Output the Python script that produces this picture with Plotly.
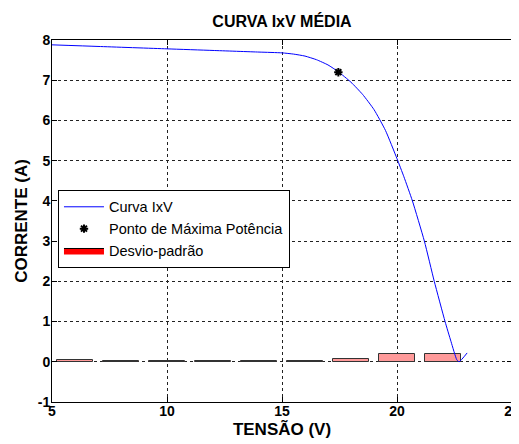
import plotly.graph_objects as go

# Curve IxV (tensão V, corrente A)
curve_v = [5, 7, 10, 12, 14, 15, 15.5, 16, 16.5, 17, 17.45, 18, 18.5, 19, 19.5, 20,
           20.3, 20.67, 21.19, 21.62, 22.09, 22.35, 22.6, 22.7, 23.05]
curve_i = [7.88, 7.84, 7.78, 7.74, 7.70, 7.68, 7.65, 7.60, 7.51, 7.38, 7.21, 6.95, 6.65,
           6.27, 5.75, 5.05, 4.6, 4.0, 3.0, 2.0, 1.0, 0.5, 0.05, 0.0, 0.22]

# Ponto de máxima potência
mpp_v = [17.45]
mpp_i = [7.2]

# Desvio-padrão
dev_v = [6, 8, 10, 12, 14, 16, 18, 20, 22]
dev_h = [0.05, 0.02, 0.02, 0.02, 0.02, 0.02, 0.08, 0.2, 0.2]

x_ticks = [5, 10, 15, 20, 25]
x_labels = ["5", "10", "15", "20", "25"]
y_ticks = [-1, 0, 1, 2, 3, 4, 5, 6, 7, 8]
y_labels = ["-1", "0", "1", "2", "3", "4", "5", "6", "7", "8"]

FONT = "Liberation Sans, Arial"

fig = go.Figure()
fig.add_trace(go.Bar(x=dev_v, y=dev_h, width=1.55, name="Desvio-padrão",
                     marker=dict(color="#ff9a9a", line=dict(color="#333333", width=1)),
                     showlegend=False))
fig.add_trace(go.Scatter(x=curve_v, y=curve_i, mode="lines", name="Curva IxV",
                         line=dict(color="#0000ff", width=1, shape="spline", smoothing=0.5),
                         legendrank=1))
fig.add_trace(go.Scatter(x=mpp_v, y=mpp_i, mode="markers", name="Ponto de Máxima Potência",
                         marker=dict(symbol="asterisk-open", size=7, color="black",
                                     line=dict(color="black", width=2)), legendrank=2))
# legend entry for the bars (pure red swatch as in the reference)
fig.add_trace(go.Scatter(x=[None], y=[None], mode="lines", fill="toself", name="Desvio-padrão",
                         fillcolor="#ff0000", line=dict(color="black", width=1),
                         legendrank=3))

axis_common = dict(showline=True, linecolor="black", linewidth=1, mirror="ticks",
                   ticks="inside", ticklen=5, tickcolor="black",
                   showgrid=True, gridcolor="#222222", griddash="dot", gridwidth=1,
                   zeroline=False, automargin=False, ticklabeloverflow="allow",
                   tickfont=dict(family=FONT, size=14, color="black", weight="bold"))

fig.update_xaxes(range=[5, 25], tickvals=x_ticks, ticktext=x_labels, **axis_common,
                 ticklabelstandoff=-4,
                 title=dict(text="<b>TENSÃO (V)</b>", standoff=2,
                            font=dict(family=FONT, size=17, color="black")))
fig.update_yaxes(range=[-1, 8], tickvals=y_ticks, ticktext=y_labels, **axis_common,
                 ticklabelstandoff=-2,
                 title=dict(text="<b>CORRENTE (A)</b>", standoff=5,
                            font=dict(family=FONT, size=17, color="black")))

# page body has an 8px margin: figure is offset by 8px, so it is 8px smaller
W, H = 511, 436
fig.update_layout(
    width=W, height=H,
    margin=dict(l=44, r=7, t=32, b=42, autoexpand=False),
    paper_bgcolor="white", plot_bgcolor="white",
    barmode="overlay", bargap=0,
    title=dict(text="<b>CURVA IxV MÉDIA</b>", x=274 / W, xanchor="center",
               y=1 - 13.5 / H, yanchor="middle",
               font=dict(family=FONT, size=16, color="black")),
    legend=dict(x=0.013, y=0.586, xanchor="left", yanchor="top",
                bgcolor="white", bordercolor="black", borderwidth=1,
                font=dict(family=FONT, size=14.5, color="black"),
                itemwidth=40, tracegroupgap=0),
    showlegend=True,
)

fig.write_html("out.html")
